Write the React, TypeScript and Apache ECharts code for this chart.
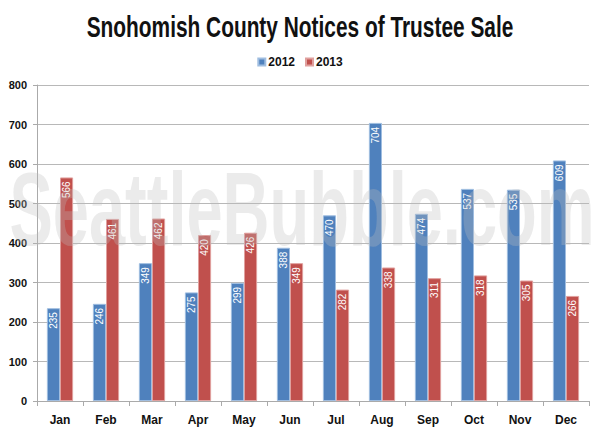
import React, { useEffect, useRef } from "react";
import * as echarts from "echarts";

const months = ["Jan", "Feb", "Mar", "Apr", "May", "Jun", "Jul", "Aug", "Sep", "Oct", "Nov", "Dec"];
const values2012 = [235, 246, 349, 275, 299, 388, 470, 704, 474, 537, 535, 609];
const values2013 = [566, 461, 462, 420, 426, 349, 282, 338, 311, 318, 305, 266];
const yTicks = { min: 0, max: 800, interval: 100 };
const titleText = "Snohomish County Notices of Trustee Sale";
const watermarkText = "SeattleBubble.com";

const FONT = "'Liberation Sans', Arial, sans-serif";

export default function App() {
  const ref = useRef<HTMLDivElement>(null);
  useEffect(() => {
    const chart = echarts.init(ref.current!, null, { renderer: "svg" });
    const label = {
      show: true,
      position: "insideTop",
      rotate: 90,
      align: "right",
      verticalAlign: "middle",
      distance: 4,
      color: "#fff",
      fontSize: 10,
      fontFamily: FONT,
    };
    chart.setOption({
      animation: false,
      backgroundColor: "#fff",
      legend: {
        top: 51,
        left: "center",
        itemWidth: 7,
        itemHeight: 7,
        itemGap: 10,
        icon: "rect",
        textStyle: { fontFamily: FONT, fontSize: 12, fontWeight: "bold", color: "#111", padding: [0, 0, 0, -2] },
      },
      grid: { left: 37, right: 11, top: 85, bottom: 35 },
      xAxis: {
        type: "category",
        data: months,
        axisLine: { lineStyle: { color: "#aaa" } },
        axisTick: { show: true, length: 5, lineStyle: { color: "#aaa" } },
        axisLabel: { fontFamily: FONT, fontSize: 12, fontWeight: "bold", color: "#111", margin: 13 },
      },
      yAxis: {
        type: "value",
        min: yTicks.min,
        max: yTicks.max,
        interval: yTicks.interval,
        axisLine: { show: true, lineStyle: { color: "#aaa" } },
        axisTick: { show: true, length: 4, lineStyle: { color: "#aaa" } },
        splitLine: { lineStyle: { color: "#b8b8b8" } },
        axisLabel: { fontFamily: FONT, fontSize: 11, fontWeight: "bold", color: "#111", margin: 10 },
      },
      series: [
        {
          name: "2012",
          type: "bar",
          data: values2012,
          barGap: "0%",
          barCategoryGap: "43%",
          itemStyle: { color: "#4F81BD", borderColor: "#9fbde0", borderWidth: 1 },
          label,
        },
        {
          name: "2013",
          type: "bar",
          data: values2013,
          itemStyle: { color: "#C0504D", borderColor: "#e0a09e", borderWidth: 1 },
          label,
        },
      ],
      graphic: [
        {
          type: "text",
          x: 300,
          y: 27,
          scaleX: 0.72,
          z: 100,
          style: {
            text: titleText,
            textAlign: "center",
            textVerticalAlign: "middle",
            fontFamily: FONT,
            fontWeight: "bold",
            fontSize: 29,
            fill: "#111",
          },
        },
        {
          type: "text",
          x: 302,
          y: 208,
          scaleX: 0.625,
          z: 100,
          silent: true,
          style: {
            text: watermarkText,
            textAlign: "center",
            textVerticalAlign: "middle",
            fontFamily: FONT,
            fontWeight: "bold",
            fontSize: 104,
            fill: "rgba(190,190,190,0.3)",
          },
        },
      ],
    });
    return () => chart.dispose();
  }, []);
  return <div ref={ref} style={{ width: 600, height: 436, position: "absolute", left: 0, top: 0 }} />;
}
